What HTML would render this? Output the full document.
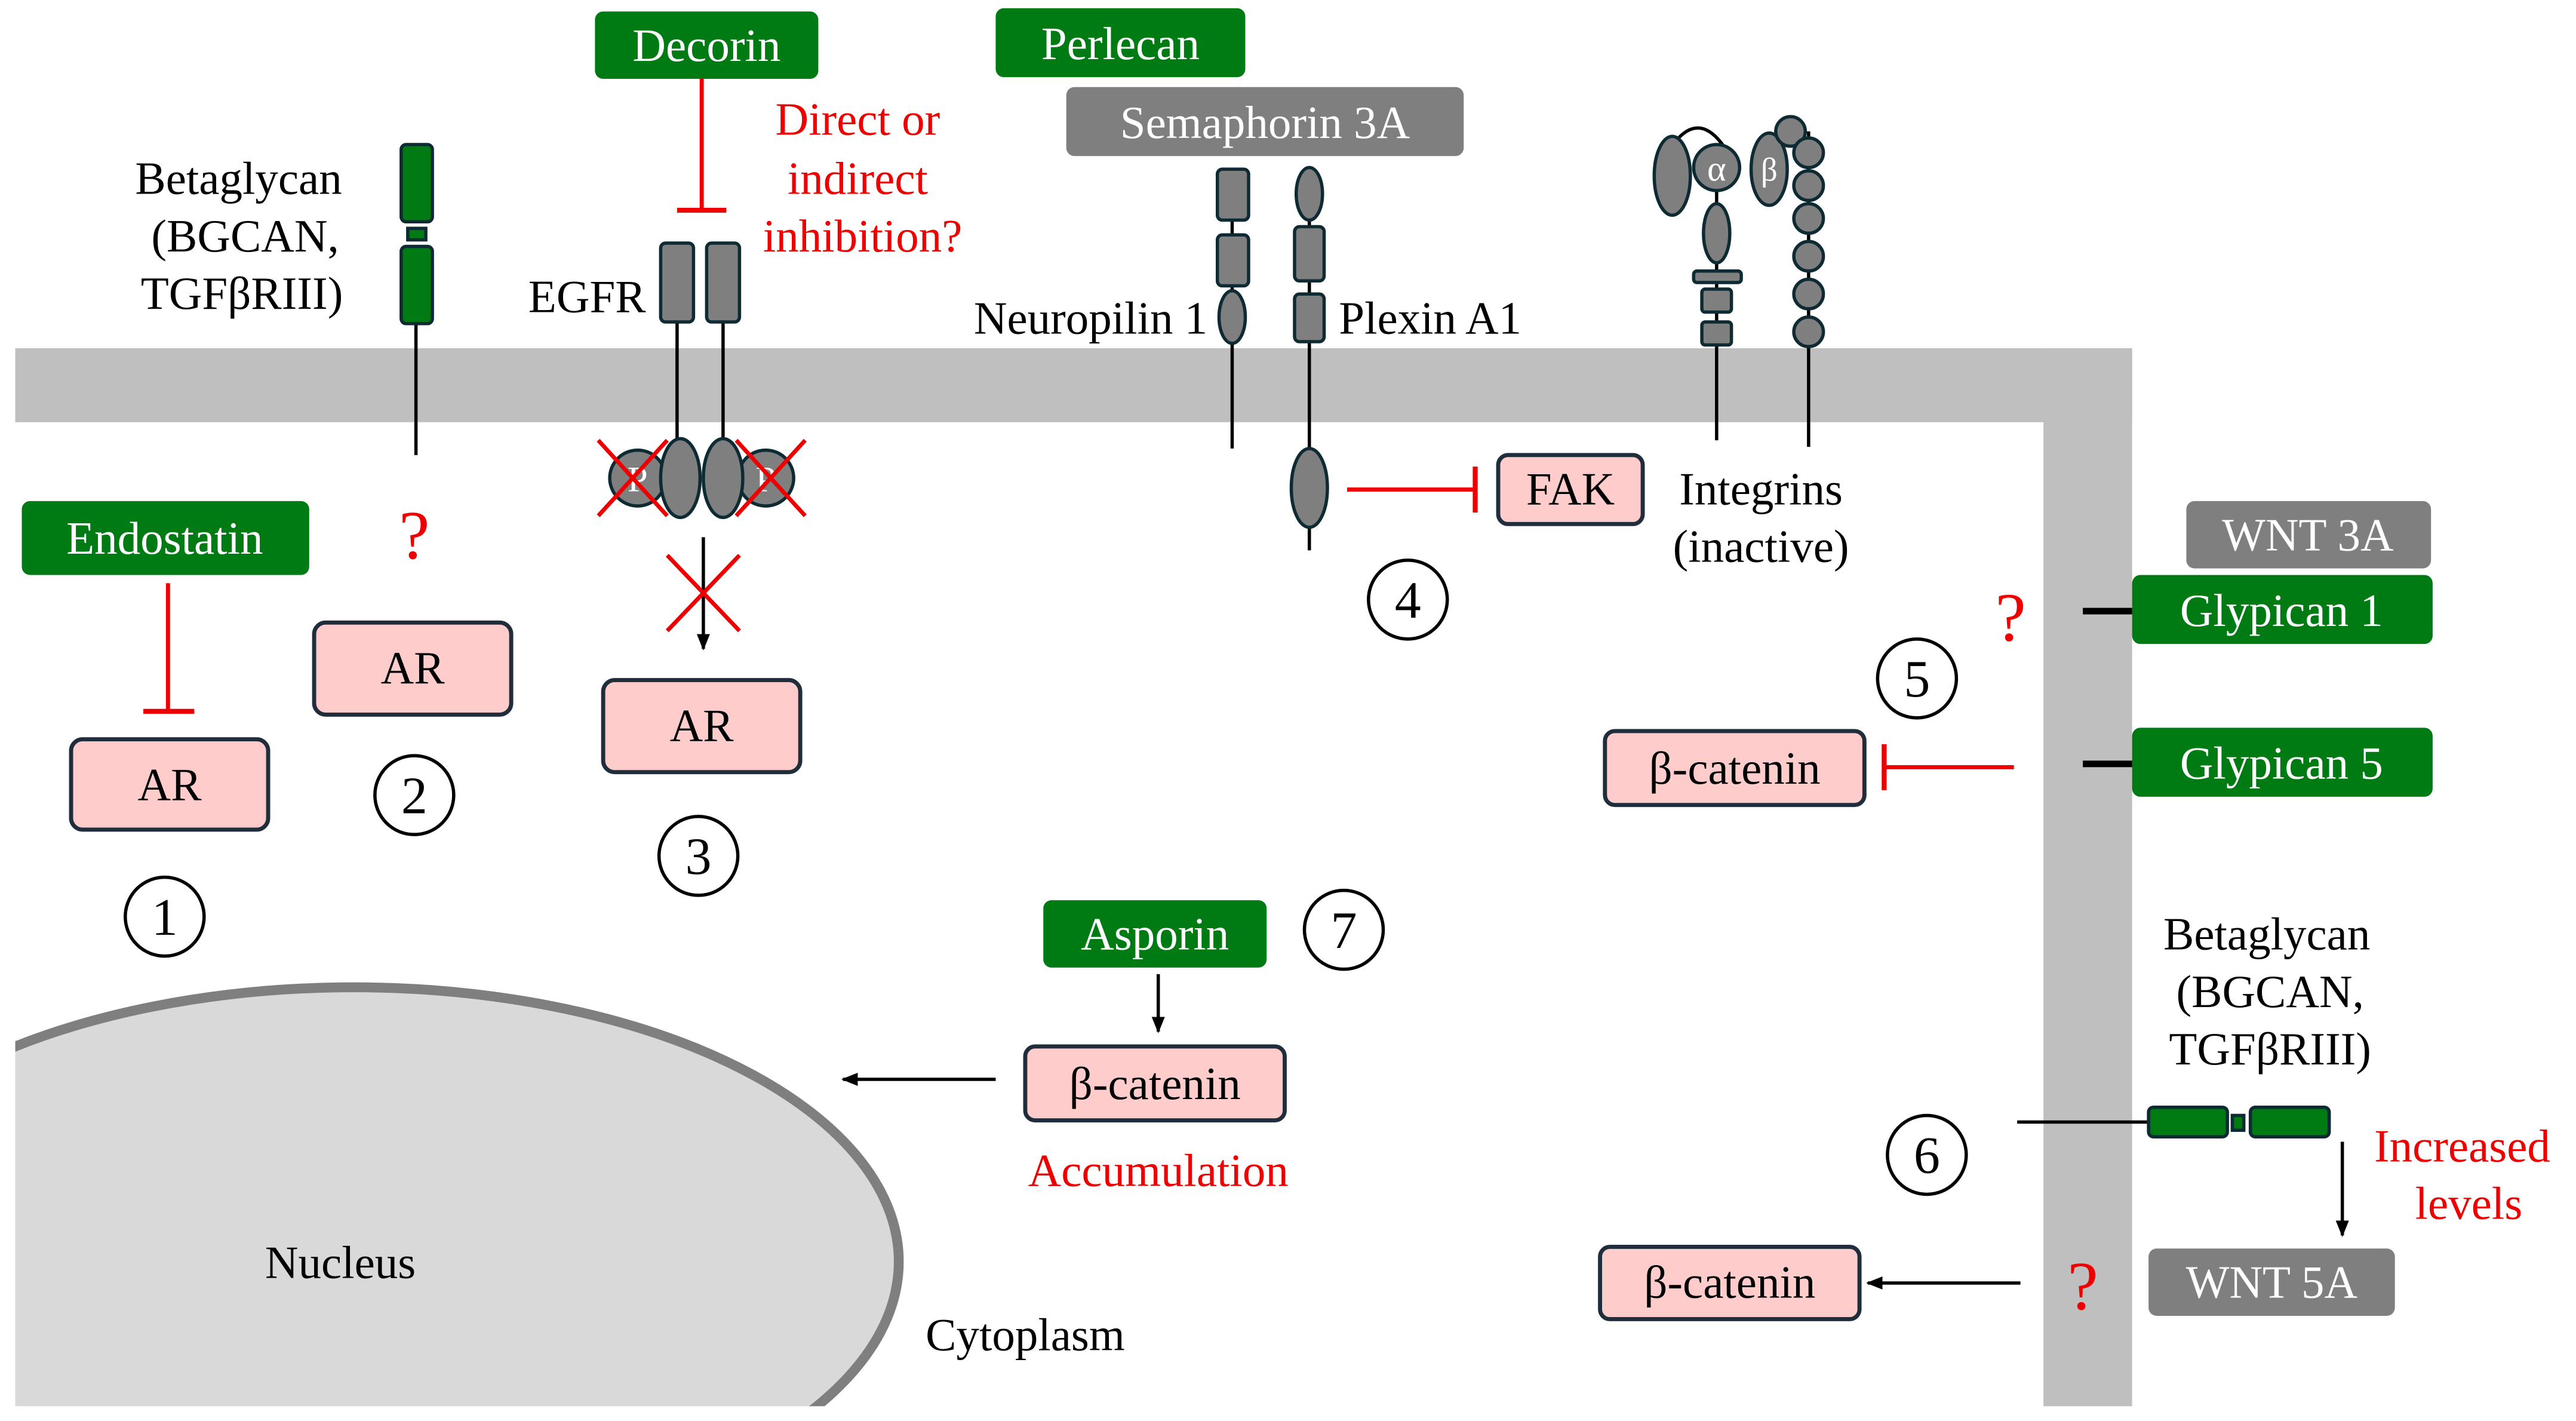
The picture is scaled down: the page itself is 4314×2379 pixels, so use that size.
<!DOCTYPE html>
<html><head><meta charset="utf-8"><style>
html,body{margin:0;padding:0;background:#fff;overflow:hidden;width:4314px;height:2379px;}
svg{display:block;}
text{font-family:"Liberation Serif",serif;font-size:28px;}
</style></head><body>
<svg width="4314" height="2379" viewBox="0 0 1568 865" xmlns="http://www.w3.org/2000/svg">
<defs>
<clipPath id="c"><rect x="9" y="0" width="1600" height="856"/></clipPath>
<marker id="ar" markerWidth="10" markerHeight="10" refX="9" refY="5" orient="auto" markerUnits="userSpaceOnUse"><path d="M0,1 L10,5 L0,9 z" fill="#000"/></marker>
</defs>
<rect width="1568" height="865" fill="#fff"/>
<rect x="9" y="212" width="1289" height="45" fill="#bfbfbf"/>
<rect x="1244" y="212" width="54" height="644" fill="#bfbfbf"/>
<g clip-path="url(#c)"><ellipse cx="215" cy="768" rx="332" ry="167" fill="#d9d9d9" stroke="#7f7f7f" stroke-width="6"/></g>
<text x="207" y="778" text-anchor="middle">Nucleus</text>
<text x="624" y="822" text-anchor="middle">Cytoplasm</text>

<rect x="362" y="7" width="136" height="41" rx="5" fill="#007a12"/>
<text x="430" y="37" text-anchor="middle" fill="#fff">Decorin</text>
<line x1="427" y1="48" x2="427" y2="128" stroke="#e00" stroke-width="2.5"/>
<line x1="412" y1="128" x2="442" y2="128" stroke="#e00" stroke-width="3"/>
<g fill="#e00" text-anchor="middle"><text x="522" y="82">Direct or</text><text x="522" y="118">indirect</text><text x="525" y="153">inhibition?</text></g>
<rect x="606" y="5" width="152" height="42" rx="5" fill="#007a12"/>
<text x="682" y="36" text-anchor="middle" fill="#fff">Perlecan</text>
<rect x="649" y="53" width="242" height="42" rx="5" fill="#7f7f7f"/>
<text x="770" y="84" text-anchor="middle" fill="#fff">Semaphorin 3A</text>

<g text-anchor="middle"><text x="145" y="118">Betaglycan</text><text x="149" y="153">(BGCAN,</text><text x="147" y="188">TGFβRIII)</text></g>
<g stroke="#0e2a33" stroke-width="2" fill="#007a12">
<line x1="253" y1="197" x2="253" y2="277" stroke="#000"/>
<rect x="244" y="88" width="19" height="47" rx="3"/>
<rect x="248" y="139" width="11" height="7"/>
<rect x="244" y="150" width="19" height="47" rx="3"/>
</g>

<text x="393" y="190" text-anchor="end">EGFR</text>
<g stroke="#0e2a33" stroke-width="2" fill="#7f7f7f">
<line x1="412" y1="196" x2="412" y2="272" stroke="#000"/>
<line x1="440" y1="196" x2="440" y2="272" stroke="#000"/>
<rect x="402" y="148" width="20" height="48" rx="3"/>
<rect x="430" y="148" width="20" height="48" rx="3"/>
<circle cx="388" cy="291" r="17"/><circle cx="466" cy="291" r="17"/>
<ellipse cx="414" cy="291" rx="12" ry="24"/><ellipse cx="440" cy="291" rx="12" ry="24"/>
</g>
<text x="388" y="299" text-anchor="middle" fill="#fff" style="font-size:22px">P</text>
<text x="466" y="299" text-anchor="middle" fill="#fff" style="font-size:22px">P</text>
<g stroke="#e00" stroke-width="2.5">
<line x1="364" y1="268" x2="406" y2="314"/><line x1="406" y1="268" x2="364" y2="314"/>
<line x1="448" y1="268" x2="490" y2="314"/><line x1="490" y1="268" x2="448" y2="314"/>
</g>
<line x1="428" y1="327" x2="428" y2="395" stroke="#000" stroke-width="2" marker-end="url(#ar)"/>
<g stroke="#e00" stroke-width="2.5"><line x1="406" y1="338" x2="450" y2="384"/><line x1="450" y1="338" x2="406" y2="384"/></g>

<g fill="#ffcccc" stroke="#1f2d3d" stroke-width="2.5">
<rect x="43" y="450" width="120" height="55" rx="7"/>
<rect x="191" y="379" width="120" height="56" rx="7"/>
<rect x="367" y="414" width="120" height="56" rx="7"/>
<rect x="912" y="277" width="88" height="42" rx="6"/>
<rect x="977" y="445" width="158" height="45" rx="6"/>
<rect x="974" y="759" width="158" height="44" rx="6"/>
<rect x="624" y="637" width="158" height="45" rx="6"/>
</g>
<g text-anchor="middle">
<text x="103" y="487">AR</text><text x="251" y="416">AR</text><text x="427" y="451">AR</text>
<text x="956" y="307">FAK</text><text x="1056" y="477">β-catenin</text><text x="1053" y="790">β-catenin</text><text x="703" y="669">β-catenin</text>
</g>

<rect x="13" y="305" width="175" height="45" rx="5" fill="#007a12"/>
<text x="100" y="337" text-anchor="middle" fill="#fff">Endostatin</text>
<line x1="102" y1="355" x2="102" y2="433" stroke="#e00" stroke-width="2.5"/>
<line x1="87" y1="433" x2="118" y2="433" stroke="#e00" stroke-width="3"/>
<text x="252" y="340" text-anchor="middle" fill="#e00" style="font-size:42px">?</text>

<g fill="#fff" stroke="#000" stroke-width="2">
<circle cx="100" cy="558" r="24"/><circle cx="252" cy="484" r="24"/><circle cx="425" cy="521" r="24"/>
<circle cx="857" cy="365" r="24"/><circle cx="1167" cy="413" r="24"/><circle cx="1173" cy="703" r="24"/><circle cx="818" cy="566" r="24"/>
</g>
<g text-anchor="middle">
<text x="100" y="569" style="font-size:32px">1</text><text x="252" y="495" style="font-size:32px">2</text><text x="425" y="532" style="font-size:32px">3</text>
<text x="857" y="376" style="font-size:32px">4</text><text x="1167" y="424" style="font-size:32px">5</text><text x="1173" y="714" style="font-size:32px">6</text><text x="818" y="577" style="font-size:32px">7</text>
</g>

<text x="735" y="203" text-anchor="end">Neuropilin 1</text>
<text x="815" y="203">Plexin A1</text>
<g stroke="#0e2a33" stroke-width="2" fill="#7f7f7f">
<line x1="750" y1="103" x2="750" y2="273" stroke="#000"/>
<rect x="741" y="103" width="19" height="31" rx="3"/><rect x="741" y="143" width="19" height="31" rx="3"/>
<ellipse cx="750" cy="193" rx="8" ry="16"/>
<line x1="797" y1="110" x2="797" y2="335" stroke="#000"/>
<ellipse cx="797" cy="118" rx="8" ry="16"/>
<rect x="788" y="138" width="18" height="33" rx="3"/><rect x="788" y="179" width="18" height="29" rx="3"/>
<ellipse cx="797" cy="297" rx="11" ry="24"/>
</g>
<line x1="820" y1="298" x2="898" y2="298" stroke="#e00" stroke-width="2.5"/>
<line x1="898" y1="284" x2="898" y2="312" stroke="#e00" stroke-width="3"/>
<g text-anchor="middle"><text x="1072" y="307">Integrins</text><text x="1072" y="342">(inactive)</text></g>

<g stroke="#0e2a33" stroke-width="2" fill="#7f7f7f">
<line x1="1045" y1="110" x2="1045" y2="268" stroke="#000"/>
<line x1="1101" y1="80" x2="1101" y2="272" stroke="#000"/>
<path d="M1020,86 Q1035,68 1050,90" fill="none" stroke="#000"/>
<ellipse cx="1018" cy="107" rx="11" ry="24"/>
<ellipse cx="1045" cy="142" rx="8" ry="18"/>
<rect x="1031" y="165" width="29" height="7" rx="2"/>
<rect x="1036" y="176" width="18" height="14" rx="2"/><rect x="1036" y="196" width="18" height="14" rx="2"/>
<circle cx="1045" cy="102" r="14"/>
<ellipse cx="1077" cy="103" rx="11" ry="22"/>
<circle cx="1090" cy="80" r="9"/>
<circle cx="1101" cy="93" r="9"/><circle cx="1101" cy="113" r="9"/><circle cx="1101" cy="133" r="9"/>
<circle cx="1101" cy="156" r="9"/><circle cx="1101" cy="179" r="9"/><circle cx="1101" cy="202" r="9"/>
</g>
<text x="1045" y="110" text-anchor="middle" fill="#fff" style="font-size:22px">α</text>
<text x="1077" y="110" text-anchor="middle" fill="#fff" style="font-size:20px">β</text>

<rect x="1331" y="305" width="149" height="41" rx="5" fill="#7f7f7f"/>
<text x="1405" y="335" text-anchor="middle" fill="#fff">WNT 3A</text>
<rect x="1298" y="350" width="183" height="42" rx="5" fill="#007a12"/>
<text x="1389" y="381" text-anchor="middle" fill="#fff">Glypican 1</text>
<line x1="1268" y1="372" x2="1298" y2="372" stroke="#000" stroke-width="4"/>
<text x="1224" y="390" text-anchor="middle" fill="#e00" style="font-size:42px">?</text>
<rect x="1298" y="443" width="183" height="42" rx="5" fill="#007a12"/>
<text x="1389" y="474" text-anchor="middle" fill="#fff">Glypican 5</text>
<line x1="1268" y1="465" x2="1298" y2="465" stroke="#000" stroke-width="4"/>
<line x1="1226" y1="467" x2="1147" y2="467" stroke="#e00" stroke-width="2.5"/>
<line x1="1147" y1="453" x2="1147" y2="481" stroke="#e00" stroke-width="3"/>

<g text-anchor="middle"><text x="1380" y="578">Betaglycan</text><text x="1382" y="613">(BGCAN,</text><text x="1382" y="648">TGFβRIII)</text></g>
<line x1="1228" y1="683" x2="1308" y2="683" stroke="#000" stroke-width="2"/>
<g stroke="#0e2a33" stroke-width="2" fill="#007a12">
<rect x="1308" y="674" width="48" height="18" rx="3"/>
<rect x="1359" y="679" width="7" height="9"/>
<rect x="1370" y="674" width="48" height="18" rx="3"/>
</g>
<line x1="1426" y1="695" x2="1426" y2="752" stroke="#000" stroke-width="2" marker-end="url(#ar)"/>
<g text-anchor="middle" fill="#e00"><text x="1499" y="707">Increased</text><text x="1503" y="742">levels</text></g>
<rect x="1308" y="760" width="150" height="41" rx="5" fill="#7f7f7f"/>
<text x="1383" y="790" text-anchor="middle" fill="#fff">WNT 5A</text>
<text x="1268" y="797" text-anchor="middle" fill="#e00" style="font-size:42px">?</text>
<line x1="1230" y1="781" x2="1137" y2="781" stroke="#000" stroke-width="2" marker-end="url(#ar)"/>

<rect x="635" y="548" width="136" height="41" rx="5" fill="#007a12"/>
<text x="703" y="578" text-anchor="middle" fill="#fff">Asporin</text>
<line x1="705" y1="593" x2="705" y2="628" stroke="#000" stroke-width="2" marker-end="url(#ar)"/>
<line x1="606" y1="657" x2="513" y2="657" stroke="#000" stroke-width="2" marker-end="url(#ar)"/>
<text x="705" y="722" text-anchor="middle" fill="#e00">Accumulation</text>
</svg>
</body></html>
